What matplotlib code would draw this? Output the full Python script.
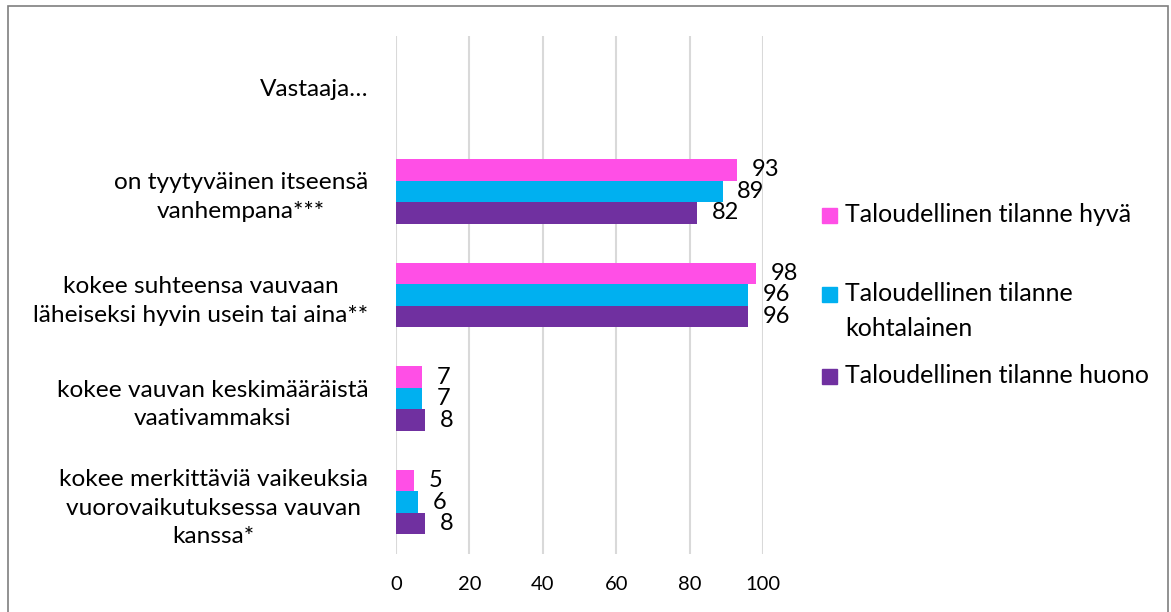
import matplotlib.pyplot as plt
from matplotlib.patches import Rectangle

# Chart data
categories = [
    "Vastaaja…",
    "on tyytyväinen itseensä\nvanhempana***",
    "kokee suhteensa vauvaan\nläheiseksi hyvin usein tai aina**",
    "kokee vauvan keskimääräistä\nvaativammaksi",
    "kokee merkittäviä vaikeuksia\nvuorovaikutuksessa vauvan\nkanssa*",
]
series_names = [
    "Taloudellinen tilanne hyvä",
    "Taloudellinen tilanne\nkohtalainen",
    "Taloudellinen tilanne huono",
]
hyva = [None, 93, 98, 7, 5]
kohtalainen = [None, 89, 96, 7, 6]
huono = [None, 82, 96, 8, 8]
x_ticks = [0, 20, 40, 60, 80, 100]

colors = ["#FF4FE6", "#00B0F0", "#7030A0"]

plt.rcParams['font.family'] = ['Lato', 'DejaVu Sans']

fig = plt.figure(figsize=(11.71, 6.12), dpi=100)
ax = fig.add_axes([0.3382, 0.0948, 0.3134, 0.8464])

bar_h = 0.2075
all_series = [hyva, kohtalainen, huono]
for i, (vals, col) in enumerate(zip(all_series, colors)):
    ys = [k + (i - 1) * bar_h for k, v in enumerate(vals) if v is not None]
    xs = [v for v in vals if v is not None]
    bars = ax.barh(ys, xs, height=bar_h, color=col, zorder=3)
    ax.bar_label(bars, labels=[str(v) for v in xs], padding=10.5, fontsize=17)

ax.set_xlim(0, 100)
ax.set_ylim(len(categories) - 0.5, -0.5)
ax.set_xticks(x_ticks)
ax.set_xticklabels([str(t) for t in x_ticks], fontsize=14.5)
ax.set_yticks(range(len(categories)))
ax.set_yticklabels(categories, fontsize=17.6, ha='right', multialignment='center',
                   linespacing=1.45)
ax.tick_params(axis='both', length=0)
ax.tick_params(axis='x', pad=16)
ax.tick_params(axis='y', pad=20)
ax.grid(axis='x', color='#D9D9D9', linewidth=1.5, zorder=0)
for s in ax.spines.values():
    s.set_visible(False)

# Legend drawn by hand (one text per line, first baseline next to the marker)
W, H = 1171, 612
leg_base = [222, 301, 383]
line_step = 35
for name, col, y in zip(series_names, colors, leg_base):
    fig.patches.append(Rectangle((822 / W, (H - y - 1) / H), 15 / W, 15 / H,
                                 transform=fig.transFigure, color=col))
    for j, line in enumerate(name.split("\n")):
        fig.text(845 / W, 1 - (y + j * line_step) / H, line, fontsize=18,
                 va='baseline', transform=fig.transFigure)

# chart border
fig.patches.append(Rectangle((8 / W, -0.01), 1160 / W, 1 - 6 / H + 0.01,
                             transform=fig.transFigure, fill=False,
                             edgecolor='#7F7F7F', linewidth=1.2))

fig.savefig("out.png", dpi=100)
